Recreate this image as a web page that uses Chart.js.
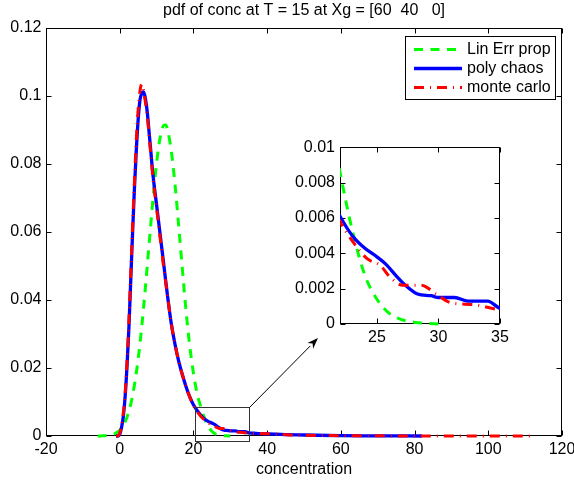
<!DOCTYPE html>
<html><head><meta charset="utf-8">
<script src="https://cdn.jsdelivr.net/npm/chart.js@4"></script>
<style>
html,body{margin:0;padding:0;background:#fff;}
#wrap{position:relative;width:574px;height:481px;overflow:hidden;}
#main{position:absolute;left:0;top:0;}
#inset{position:absolute;left:290px;top:135px;}
</style></head><body>
<div id="wrap">
<canvas id="main" width="574" height="481"></canvas>
<canvas id="inset" width="220" height="220"></canvas>
</div>
<script>
// ---------- data ----------
const titleText = 'pdf of conc at T = 15 at Xg = [60  40   0]';
const xAxisTitle = 'concentration';
const seriesLabels = ['Lin Err prop', 'poly chaos', 'monte carlo'];

const linX = [-6,-5,-4,-3,-2,-1,0,1,2,3,4,5,6,7,8,9,10,11,12,12.5,13,14,15,16,17,18,19,20,21,22,23,24,25,26,27,28,29,30];
const linY = [0,0.00003,0.00008,0.0002,0.0004,0.0009,0.0017,0.0032,0.0056,0.0094,0.0150,0.0226,0.0324,0.0441,0.0568,0.0694,0.0803,0.0880,0.0914,0.0915,0.0899,0.0838,0.0740,0.0619,0.0491,0.0368,0.0265,0.0185,0.0125,0.0086,0.0053,0.0028,0.0014,0.0006,0.00025,0.0001,0.00004,0];

const pcX = [-1,-0.5,0,0.5,1,1.5,2,2.5,3,3.5,4,4.5,5,5.5,6,6.5,7,7.5,8,8.5,9,10,11,12,13,14,15,16,17,18,19,20,21,22,23,24,25,25.7,26.6,27.3,28.3,29.4,30,31.3,32.4,34,35,37,40,45,50,60,70,82];
const pcY = [0,0,0.0005,0.0025,0.006,0.012,0.021,0.032,0.046,0.060,0.073,0.084,0.093,0.0988,0.1008,0.1012,0.0990,0.0950,0.0890,0.0830,0.0770,0.0680,0.0590,0.0500,0.0410,0.0330,0.0270,0.0220,0.0180,0.0145,0.0115,0.0092,0.0075,0.0061,0.0050,0.0043,0.0038,0.0034,0.0027,0.0022,0.0017,0.0016,0.0015,0.0015,0.0013,0.0013,0.0009,0.0008,0.0006,0.0004,0.0003,0.0001,0.00005,0];

const mcX = [-1,-0.5,0,0.5,1,1.5,2,2.5,3,3.5,4,4.5,5,5.5,6,6.5,7,7.5,8,8.5,9,10,11,12,13,14,15,16,17,18,19,20,21,22,23,24.2,25.3,26,27.1,28.6,29.8,31,32.8,35,38,42,46,50,60,70,80,112];
const mcY = [0,0,0.0008,0.003,0.007,0.013,0.022,0.034,0.048,0.062,0.075,0.087,0.096,0.1015,0.1035,0.1015,0.0980,0.0940,0.0880,0.0820,0.0760,0.0670,0.0580,0.0490,0.0410,0.0330,0.0270,0.0220,0.0180,0.0145,0.0115,0.0090,0.0072,0.0058,0.0047,0.0037,0.0033,0.0027,0.0022,0.0022,0.0017,0.0012,0.0011,0.0008,0.0007,0.0006,0.0003,0.0002,0.0001,0.00005,0,0];

const mainXTicks = [-20,0,20,40,60,80,100,120];
const mainXTickLabels = ['-20','0','20','40','60','80','100','120'];
const mainYTicks = [0,0.02,0.04,0.06,0.08,0.1,0.12];
const mainYTickLabels = ['0','0.02','0.04','0.06','0.08','0.1','0.12'];
const insetXTicks = [25,30,35];
const insetXTickLabels = ['25','30','35'];
const insetYTicks = [0,0.002,0.004,0.006,0.008,0.01];
const insetYTickLabels = ['0','0.002','0.004','0.006','0.008','0.01'];

const zoomBoxX = [20.4, 35];
const zoomBoxY = [-0.0014, 0.0085];
const arrowTip = [53.8, 0.0288];

// ---------- setup ----------
Chart.defaults.font.family = '"Liberation Sans", Arial, Helvetica, sans-serif';
Chart.defaults.font.size = 16;
Chart.defaults.color = '#000';
Chart.defaults.animation = false;

function pts(xs, ys) { return xs.map((x, i) => ({x: x, y: ys[i]})); }
const seriesStyles = [
  {borderColor: '#00ff00', borderDash: [9, 7.5], borderWidth: 3, order: 3},
  {borderColor: '#0000ff', borderDash: [], borderWidth: 3.3, order: 2},
  {borderColor: '#ff0000', borderDash: [10, 6, 1, 6], borderWidth: 3, order: 1}
];
function makeDatasets(clip) {
  const xs = [linX, pcX, mcX], ys = [linY, pcY, mcY];
  return seriesLabels.map((lab, i) => Object.assign({
    label: lab, data: pts(xs[i], ys[i]), pointRadius: 0, fill: false,
    cubicInterpolationMode: 'monotone', borderCapStyle: 'butt', borderJoinStyle: 'round',
    clip: clip
  }, seriesStyles[i]));
}

const framePlugin = {
  id: 'frame',
  beforeDatasetsDraw(chart, args, opts) {
    const {ctx, chartArea: a, scales} = chart;
    ctx.save();
    if (opts.fill) { ctx.fillStyle = '#fff'; ctx.fillRect(a.left, a.top, a.right - a.left, a.bottom - a.top); }
    ctx.strokeStyle = '#000'; ctx.lineWidth = 1;
    const L = Math.round(a.left) + 0.5, R = Math.round(a.right) - 0.5, T = Math.round(a.top) + 0.5, B = Math.round(a.bottom) - 0.5;
    ctx.strokeRect(L, T, R - L, B - T);
    const tl = opts.tickLen || 5;
    ctx.beginPath();
    scales.x.ticks.forEach(t => {
      const px = Math.round(scales.x.getPixelForValue(t.value)) + 0.5;
      ctx.moveTo(px, B); ctx.lineTo(px, B - tl);
      ctx.moveTo(px, T); ctx.lineTo(px, T + tl);
    });
    scales.y.ticks.forEach(t => {
      const py = Math.round(scales.y.getPixelForValue(t.value)) + 0.5;
      ctx.moveTo(L, py); ctx.lineTo(L + tl, py);
      ctx.moveTo(R, py); ctx.lineTo(R - tl, py);
    });
    ctx.stroke();
    if (opts.title) {
      ctx.fillStyle = '#000';
      ctx.font = '16px "Liberation Sans", Arial, sans-serif';
      ctx.textAlign = 'center'; ctx.textBaseline = 'middle';
      ctx.fillText(opts.title, (a.left + a.right) / 2, 11);
    }
    ctx.restore();
  }
};

const zoomPlugin = {
  id: 'zoomMark',
  afterDatasetsDraw(chart) {
    const {ctx, scales: {x, y}} = chart;
    ctx.save();
    const x0 = Math.round(x.getPixelForValue(zoomBoxX[0])) + 0.5, x1 = Math.round(x.getPixelForValue(zoomBoxX[1])) + 0.5;
    const y0 = Math.round(y.getPixelForValue(zoomBoxY[0])) + 0.5, y1 = Math.round(y.getPixelForValue(zoomBoxY[1])) + 0.5;
    ctx.strokeStyle = '#333'; ctx.lineWidth = 1;
    ctx.strokeRect(x0, y1, x1 - x0, y0 - y1);
    const tx = x.getPixelForValue(arrowTip[0]), ty = y.getPixelForValue(arrowTip[1]);
    const ang = Math.atan2(ty - y1, tx - x1);
    const hl = 11, hw = 4;
    const bx = tx - hl * Math.cos(ang), by = ty - hl * Math.sin(ang);
    ctx.strokeStyle = '#000';
    ctx.beginPath(); ctx.moveTo(x1, y1); ctx.lineTo(bx, by); ctx.stroke();
    ctx.fillStyle = '#000';
    ctx.beginPath();
    ctx.moveTo(tx, ty);
    ctx.lineTo(bx + hw * Math.sin(ang), by - hw * Math.cos(ang));
    ctx.lineTo(tx - 0.7 * hl * Math.cos(ang), ty - 0.7 * hl * Math.sin(ang));
    ctx.lineTo(bx - hw * Math.sin(ang), by + hw * Math.cos(ang));
    ctx.closePath(); ctx.fill();
    ctx.restore();
  }
};

const legendPlugin = {
  id: 'boxLegend',
  afterDraw(chart) {
    const ctx = chart.ctx;
    ctx.save();
    ctx.fillStyle = '#fff';
    ctx.fillRect(405.5, 36.5, 150, 63);
    ctx.strokeStyle = '#000'; ctx.lineWidth = 1;
    ctx.strokeRect(405.5, 36.5, 150, 63);
    const rows = [49.5, 68.5, 87.5];
    chart.data.datasets.forEach((ds, i) => {
      ctx.strokeStyle = ds.borderColor; ctx.lineWidth = ds.borderWidth;
      ctx.setLineDash(ds.borderDash || []);
      ctx.beginPath(); ctx.moveTo(414, rows[i]); ctx.lineTo(462, rows[i]); ctx.stroke();
      ctx.setLineDash([]);
      ctx.fillStyle = '#000';
      ctx.font = '16px "Liberation Sans", Arial, sans-serif';
      ctx.textBaseline = 'middle'; ctx.textAlign = 'left';
      ctx.fillText(ds.label, 467, rows[i]);
    });
    ctx.restore();
  }
};

const noGrid = {display: false, drawTicks: false};

new Chart(document.getElementById('main'), {
  type: 'line',
  data: {datasets: makeDatasets({top: 3, right: 0, left: 0, bottom: 3})},
  plugins: [framePlugin, zoomPlugin, legendPlugin],
  options: {
    responsive: false,
    layout: {padding: {left: 0, right: 12, top: 28, bottom: 0}},
    plugins: {
      legend: {display: false},
      tooltip: {enabled: false},
      title: {display: false},
      frame: {tickLen: 5, title: titleText}
    },
    scales: {
      x: {
        type: 'linear', min: -20, max: 120,
        afterBuildTicks: s => { s.ticks = mainXTicks.map(v => ({value: v})); },
        ticks: {autoSkip: false, maxRotation: 0, padding: 3.5, callback: (v, i) => mainXTickLabels[i]},
        grid: noGrid, border: {display: false},
        title: {display: true, text: xAxisTitle, padding: {top: 0, bottom: 2}},
        afterFit: s => { s.height = 45; s.paddingLeft = 0; s.paddingRight = 0; }
      },
      y: {
        type: 'linear', min: 0, max: 0.12,
        afterBuildTicks: s => { s.ticks = mainYTicks.map(v => ({value: v})); },
        ticks: {autoSkip: false, padding: 4.5, callback: (v, i) => mainYTickLabels[i]},
        grid: noGrid, border: {display: false},
        afterFit: s => { s.width = 46; s.paddingTop = 0; s.paddingBottom = 0; }
      }
    }
  }
});

new Chart(document.getElementById('inset'), {
  type: 'line',
  data: {datasets: makeDatasets({top: 0, right: 0, left: 0, bottom: 2})},
  plugins: [framePlugin],
  options: {
    responsive: false,
    layout: {padding: {left: 0, right: 10, top: 12.3, bottom: 0}},
    plugins: {legend: {display: false}, tooltip: {enabled: false}, title: {display: false}, frame: {fill: true, tickLen: 5}},
    scales: {
      x: {
        type: 'linear', min: 22, max: 35,
        afterBuildTicks: s => { s.ticks = insetXTicks.map(v => ({value: v})); },
        ticks: {autoSkip: false, maxRotation: 0, padding: 4, callback: (v, i) => insetXTickLabels[i]},
        grid: noGrid, border: {display: false},
        afterFit: s => { s.height = 31; s.paddingLeft = 0; s.paddingRight = 0; }
      },
      y: {
        type: 'linear', min: 0, max: 0.01,
        afterBuildTicks: s => { s.ticks = insetYTicks.map(v => ({value: v})); },
        ticks: {autoSkip: false, padding: 5, callback: (v, i) => insetYTickLabels[i]},
        grid: noGrid, border: {display: false},
        afterFit: s => { s.width = 50; s.paddingTop = 0; s.paddingBottom = 0; }
      }
    }
  }
});
</script>
</body></html>
